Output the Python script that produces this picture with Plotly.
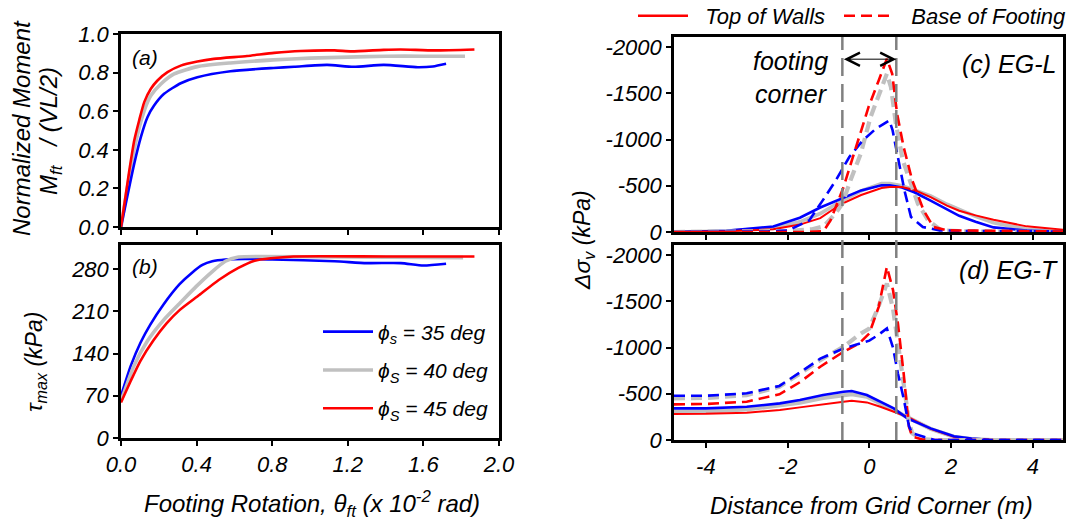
import plotly.graph_objects as go

W, H = 1070, 521
FONT = "Liberation Sans, Arial, sans-serif"
BLUE, GRAY, RED = "#0000ff", "#c0c0c0", "#ff0000"

# ---------------- Panel (a): normalized moment vs rotation ----------------
a_blue_x = [0, 0.07, 0.105, 0.14, 0.175, 0.228, 0.316, 0.404, 0.579, 0.807, 0.916, 1.09, 1.23, 1.39, 1.57, 1.65, 1.72]
a_blue_y = [0, 0.328, 0.466, 0.569, 0.629, 0.69, 0.745, 0.776, 0.807, 0.824, 0.83, 0.84, 0.83, 0.84, 0.828, 0.832, 0.846]
a_gray_x = [0, 0.07, 0.123, 0.158, 0.211, 0.281, 0.404, 0.579, 0.807, 1.0, 1.2, 1.4, 1.6, 1.82]
a_gray_y = [0, 0.405, 0.603, 0.681, 0.741, 0.793, 0.831, 0.85, 0.866, 0.875, 0.88, 0.885, 0.885, 0.885]
a_red_x = [0, 0.044, 0.07, 0.096, 0.123, 0.158, 0.193, 0.246, 0.316, 0.404, 0.491, 0.667, 0.81, 0.95, 1.13, 1.22, 1.39, 1.48, 1.66, 1.87]
a_red_y = [0, 0.293, 0.448, 0.552, 0.647, 0.716, 0.759, 0.802, 0.836, 0.857, 0.871, 0.886, 0.902, 0.912, 0.915, 0.91, 0.918, 0.92, 0.915, 0.92]

# ---------------- Panel (b): tau_max vs rotation ----------------
b_blue_x = [0, 0.052, 0.103, 0.155, 0.224, 0.31, 0.379, 0.431, 0.483, 0.552, 0.655, 0.8, 1.13, 1.3, 1.48, 1.6, 1.72]
b_blue_y = [70, 120, 158, 188, 221, 255, 275, 287, 293, 296, 297, 296, 293, 290, 290, 286, 289]
b_gray_x = [0, 0.069, 0.138, 0.224, 0.31, 0.397, 0.483, 0.552, 0.621, 0.741, 1.2, 1.81]
b_gray_y = [61, 120, 160, 195, 223, 251, 276, 293, 300, 301, 300, 299]
b_red_x = [0, 0.052, 0.103, 0.172, 0.241, 0.31, 0.414, 0.517, 0.621, 0.707, 0.793, 0.914, 1.4, 1.87]
b_red_y = [59, 95, 128, 162, 190, 212, 237, 262, 282, 294, 298, 301, 301, 301]

# ---------------- Panel (c): EG-L stress change (kPa, compression negative) ----------------
c_dist_solid = [-4.78, -3.5, -2.35, -1.7, -1.2, -0.7, -0.2, 0.3, 0.5, 0.8, 1.1, 1.5, 1.9, 2.2, 2.6, 3.04, 3.85, 4.75]
c_blue_top = [0, -14, -60, -155, -265, -360, -450, -505, -505, -482, -430, -340, -250, -175, -110, -50, -15, -3]
c_gray_top = [0, -10, -45, -110, -200, -330, -445, -523, -523, -500, -455, -390, -300, -245, -170, -100, -30, -5]
c_red_top = [0, -7, -30, -80, -150, -300, -400, -475, -486, -486, -455, -378, -285, -230, -180, -133, -61, -25]

c_dist_blue_base = [-4.78, -2.5, -2.0, -1.47, -1.14, -0.82, -0.49, -0.16, 0.16, 0.49, 0.57, 0.73, 0.86, 1.02, 1.31, 1.72, 2.5, 3.5, 4.75]
c_blue_base = [0, -5, -15, -126, -342, -559, -811, -991, -1117, -1207, -1099, -739, -450, -162, -54, -18, -10, -8, -5]
c_dist_gray_base = [-4.78, -2.0, -1.4, -1.12, -0.83, -0.66, -0.46, -0.21, 0.03, 0.28, 0.43, 0.53, 0.65, 0.82, 0.98, 1.19, 1.44, 1.76, 2.5, 4.75]
c_gray_base = [0, -10, -30, -60, -200, -306, -559, -847, -1243, -1531, -1712, -1567, -1171, -775, -559, -306, -126, -18, -5, 0]
c_dist_red_base = [-4.78, -1.5, -1.12, -0.95, -0.63, -0.30, -0.02, 0.23, 0.43, 0.56, 0.68, 0.84, 1.05, 1.33, 1.57, 1.9, 3.0, 4.75]
c_red_base = [0, 0, -10, -126, -486, -955, -1351, -1640, -1874, -1712, -1279, -919, -559, -234, -54, -18, -10, -5]

# ---------------- Panel (d): EG-T stress change ----------------
d_dist_solid = [-4.78, -4.0, -3.0, -2.19, -1.7, -1.13, -0.63, -0.43, -0.06, 0.27, 0.6, 0.93, 1.5, 2.07, 2.5, 3.0, 4.75]
d_blue_top = [-342, -342, -360, -396, -432, -486, -522, -530, -486, -414, -342, -234, -126, -40, -15, 0, 0]
d_gray_top = [-306, -308, -330, -378, -405, -455, -486, -497, -468, -396, -324, -252, -120, -35, -10, 0, 0]
d_red_top = [-281, -283, -296, -324, -353, -389, -415, -425, -407, -360, -306, -252, -120, -35, -10, 0, 0]

d_dist_base = [-4.78, -4.0, -3.0, -2.2, -1.7, -1.2, -0.63, -0.25, 0.0, 0.23, 0.43, 0.58, 0.7, 0.84, 0.97, 1.05, 1.3, 1.6, 4.75]
d_blue_base = [-479, -479, -505, -585, -730, -880, -991, -1045, -1075, -1140, -1207, -1000, -720, -450, -150, -72, -36, 0, 0]
d_gray_base = [-450, -455, -486, -575, -718, -865, -1009, -1140, -1207, -1450, -1694, -1420, -1050, -600, -200, -72, -10, 0, 0]
d_red_base = [-386, -390, -414, -495, -625, -793, -955, -1045, -1153, -1441, -1874, -1622, -1261, -721, -144, -36, -5, 0, 0]

footing_edges = [-0.66, 0.66]
arrow_level = -1870

a_ticks = [0, 0.2, 0.4, 0.6, 0.8, 1.0]
rot_ticks = [0, 0.4, 0.8, 1.2, 1.6, 2.0]
b_ticks = [0, 70, 140, 210, 280]
stress_ticks = [0, -500, -1000, -1500, -2000]
stress_ticktext = ["0", "-500", "-1000", "-1500", "-2000"]
dist_ticks = [-4, -2, 0, 2, 4]
dist_ticktext = ["-4", "-2", "0", "2", "4"]

phi_labels = ["ϕ<sub>s</sub> = 35 deg", "ϕ<sub>S</sub> = 40 deg", "ϕ<sub>S</sub> = 45 deg"]
wall_labels = ["Top of Walls", "Base of Footing"]


def px(x):
    return x / W


def py(y):
    return 1 - y / H


fig = go.Figure()

xa_dom = [px(121), px(499)]
xc_dom = [px(674), px(1063)]
ya_dom = [py(227), py(34)]
yb_dom = [py(438), py(245)]
yc_dom = [py(232), py(37)]
yd_dom = [py(440), py(245)]

LW = 2.6
GW = 3.6

# (a)
for xs, ys, col, w, g in [(a_gray_x, a_gray_y, GRAY, GW, "g40"), (a_blue_x, a_blue_y, BLUE, LW, "g35"),
                          (a_red_x, a_red_y, RED, LW, "g45")]:
    fig.add_trace(go.Scatter(x=xs, y=ys, mode="lines", line=dict(color=col, width=w, shape="spline", smoothing=0.6),
                             xaxis="x", yaxis="y", showlegend=False, legendgroup=g, hoverinfo="skip"))

# (b) with legend2 (blue, gray, red order in legend)
for xs, ys, col, w, g, name in [(b_blue_x, b_blue_y, BLUE, LW, "g35", phi_labels[0]),
                                (b_gray_x, b_gray_y, GRAY, GW, "g40", phi_labels[1]),
                                (b_red_x, b_red_y, RED, LW, "g45", phi_labels[2])]:
    fig.add_trace(go.Scatter(x=xs, y=ys, mode="lines", name=name, line=dict(color=col, width=w, shape="spline", smoothing=0.6),
                             xaxis="x2", yaxis="y2", legend="legend2", legendgroup=g,
                             showlegend=True, hoverinfo="skip"))

DASH = "11px,6px"
# (c)
for xs, ys, col, w, dash in [
    (c_dist_solid, c_gray_top, GRAY, GW, "solid"),
    (c_dist_solid, c_blue_top, BLUE, LW, "solid"),
    (c_dist_solid, c_red_top, RED, 2.0, "solid"),
    (c_dist_gray_base, c_gray_base, GRAY, GW + 0.6, DASH),
    (c_dist_blue_base, c_blue_base, BLUE, LW, DASH),
    (c_dist_red_base, c_red_base, RED, LW, DASH),
]:
    fig.add_trace(go.Scatter(x=xs, y=ys, mode="lines", line=dict(color=col, width=w, dash=dash),
                             xaxis="x3", yaxis="y3", showlegend=False, hoverinfo="skip"))

# (d)
for xs, ys, col, w, dash in [
    (d_dist_solid, d_gray_top, GRAY, GW + 0.6, "solid"),
    (d_dist_solid, d_red_top, RED, 2.0, "solid"),
    (d_dist_solid, d_blue_top, BLUE, LW, "solid"),
    (d_dist_base, d_gray_base, GRAY, GW + 0.6, DASH),
    (d_dist_base, d_red_base, RED, LW, DASH),
    (d_dist_base, d_blue_base, BLUE, LW, DASH),
]:
    fig.add_trace(go.Scatter(x=xs, y=ys, mode="lines", line=dict(color=col, width=w, dash=dash),
                             xaxis="x4", yaxis="y4", showlegend=False, hoverinfo="skip"))

NB = "\u00a0"
for name, dash, lg in zip(wall_labels, ["solid", DASH], ["legend", "legend3"]):
    fig.add_trace(go.Scatter(x=[None], y=[None], mode="lines", name=NB * 2 + name,
                             line=dict(color=RED, width=2.6, dash=dash),
                             xaxis="x3", yaxis="y3", legend=lg, showlegend=True))

TICKF = dict(family=FONT, size=22, color="black", style="italic")
axis_common = dict(showline=True, linecolor="black", linewidth=2.5, mirror=True, ticks="outside",
                   ticklen=5, tickwidth=2, tickcolor="black", showgrid=False, zeroline=False,
                   tickfont=TICKF, automargin=False)

fig.update_layout(
    template="none",
    width=W, height=H, margin=dict(l=0, r=0, t=0, b=0, autoexpand=False),
    paper_bgcolor="white", plot_bgcolor="white",
    font=dict(family=FONT, size=22, color="black", style="italic"),
    xaxis=dict(domain=xa_dom, anchor="y", range=[0, 2.0], tickvals=rot_ticks, showticklabels=False, **axis_common),
    yaxis=dict(domain=ya_dom, anchor="x", range=[0, 1.0], tickvals=a_ticks, tickformat=".1f", **axis_common),
    xaxis2=dict(domain=xa_dom, anchor="y2", range=[0, 2.0], tickvals=rot_ticks, tickformat=".1f", **axis_common),
    yaxis2=dict(domain=yb_dom, anchor="x2", range=[0, 320], tickvals=b_ticks, **axis_common),
    xaxis3=dict(domain=xc_dom, anchor="y3", range=[-4.78, 4.74], tickvals=dist_ticks, showticklabels=False, **axis_common),
    yaxis3=dict(domain=yc_dom, anchor="x3", range=[0, -2110], tickvals=stress_ticks, ticktext=stress_ticktext, **axis_common),
    xaxis4=dict(domain=xc_dom, anchor="y4", range=[-4.78, 4.74], tickvals=dist_ticks, ticktext=dist_ticktext, **axis_common),
    yaxis4=dict(domain=yd_dom, anchor="x4", range=[0, -2110], tickvals=stress_ticks, ticktext=stress_ticktext, **axis_common),
    legend=dict(orientation="v", x=px(633), y=py(16), xanchor="left", yanchor="middle", bgcolor="rgba(0,0,0,0)",
                font=dict(family=FONT, size=22, style="italic"), itemwidth=50),
    legend3=dict(orientation="v", x=px(839), y=py(16), xanchor="left", yanchor="middle", bgcolor="rgba(0,0,0,0)",
                 font=dict(family=FONT, size=22, style="italic"), itemwidth=50),
    legend2=dict(orientation="v", x=px(318), y=py(370), xanchor="left", yanchor="middle", bgcolor="rgba(0,0,0,0)",
                 font=dict(family=FONT, size=21, style="italic"), itemwidth=50, traceorder="grouped",
                 tracegroupgap=8),
)

for xe in footing_edges:
    fig.add_shape(type="line", xref="x3", yref="paper", x0=xe, x1=xe, y0=yd_dom[0], y1=yc_dom[1],
                  line=dict(color="#808080", width=2.5, dash="18px,8px"), layer="above")

fig.add_annotation(x=footing_edges[1], y=arrow_level, ax=footing_edges[0], ay=arrow_level,
                   xref="x3", yref="y3", axref="x3", ayref="y3", text="", showarrow=True,
                   arrowside="end+start", arrowhead=5, arrowsize=2.6, arrowwidth=1, arrowcolor="black")

ann_font = dict(family=FONT, size=24, color="black", style="italic")


def ann(text, x, y, angle=0, xanchor="center", size=None):
    f = dict(ann_font)
    if size:
        f["size"] = size
    fig.add_annotation(text=text, x=px(x), y=py(y), xref="paper", yref="paper", showarrow=False,
                       textangle=angle, xanchor=xanchor, yanchor="middle", font=f)


ann("(a)", 145, 57, size=21)
ann("(b)", 145, 266, size=21)
ann("(c) EG-L", 1058, 64, xanchor="right", size=25)
ann("(d) EG-T", 1060, 270, xanchor="right", size=25)
ann("footing<br>corner", 790, 77, size=25)
ann("Normalized Moment", 22, 128, angle=-90)
ann("M<sub>ft</sub>   / (VL/2)", 50, 131, angle=-90)
ann("τ<sub>max</sub> (kPa)", 35, 362, angle=-90, size=23)
ann("Footing Rotation, θ<sub>ft</sub> (x 10<sup>-2</sup> rad)", 312, 504)
ann("Distance from Grid Corner (m)", 871, 505)
ann("Δσ<sub>v</sub> (kPa)", 583, 240, angle=-90, size=23)

fig.write_html("out.html")
